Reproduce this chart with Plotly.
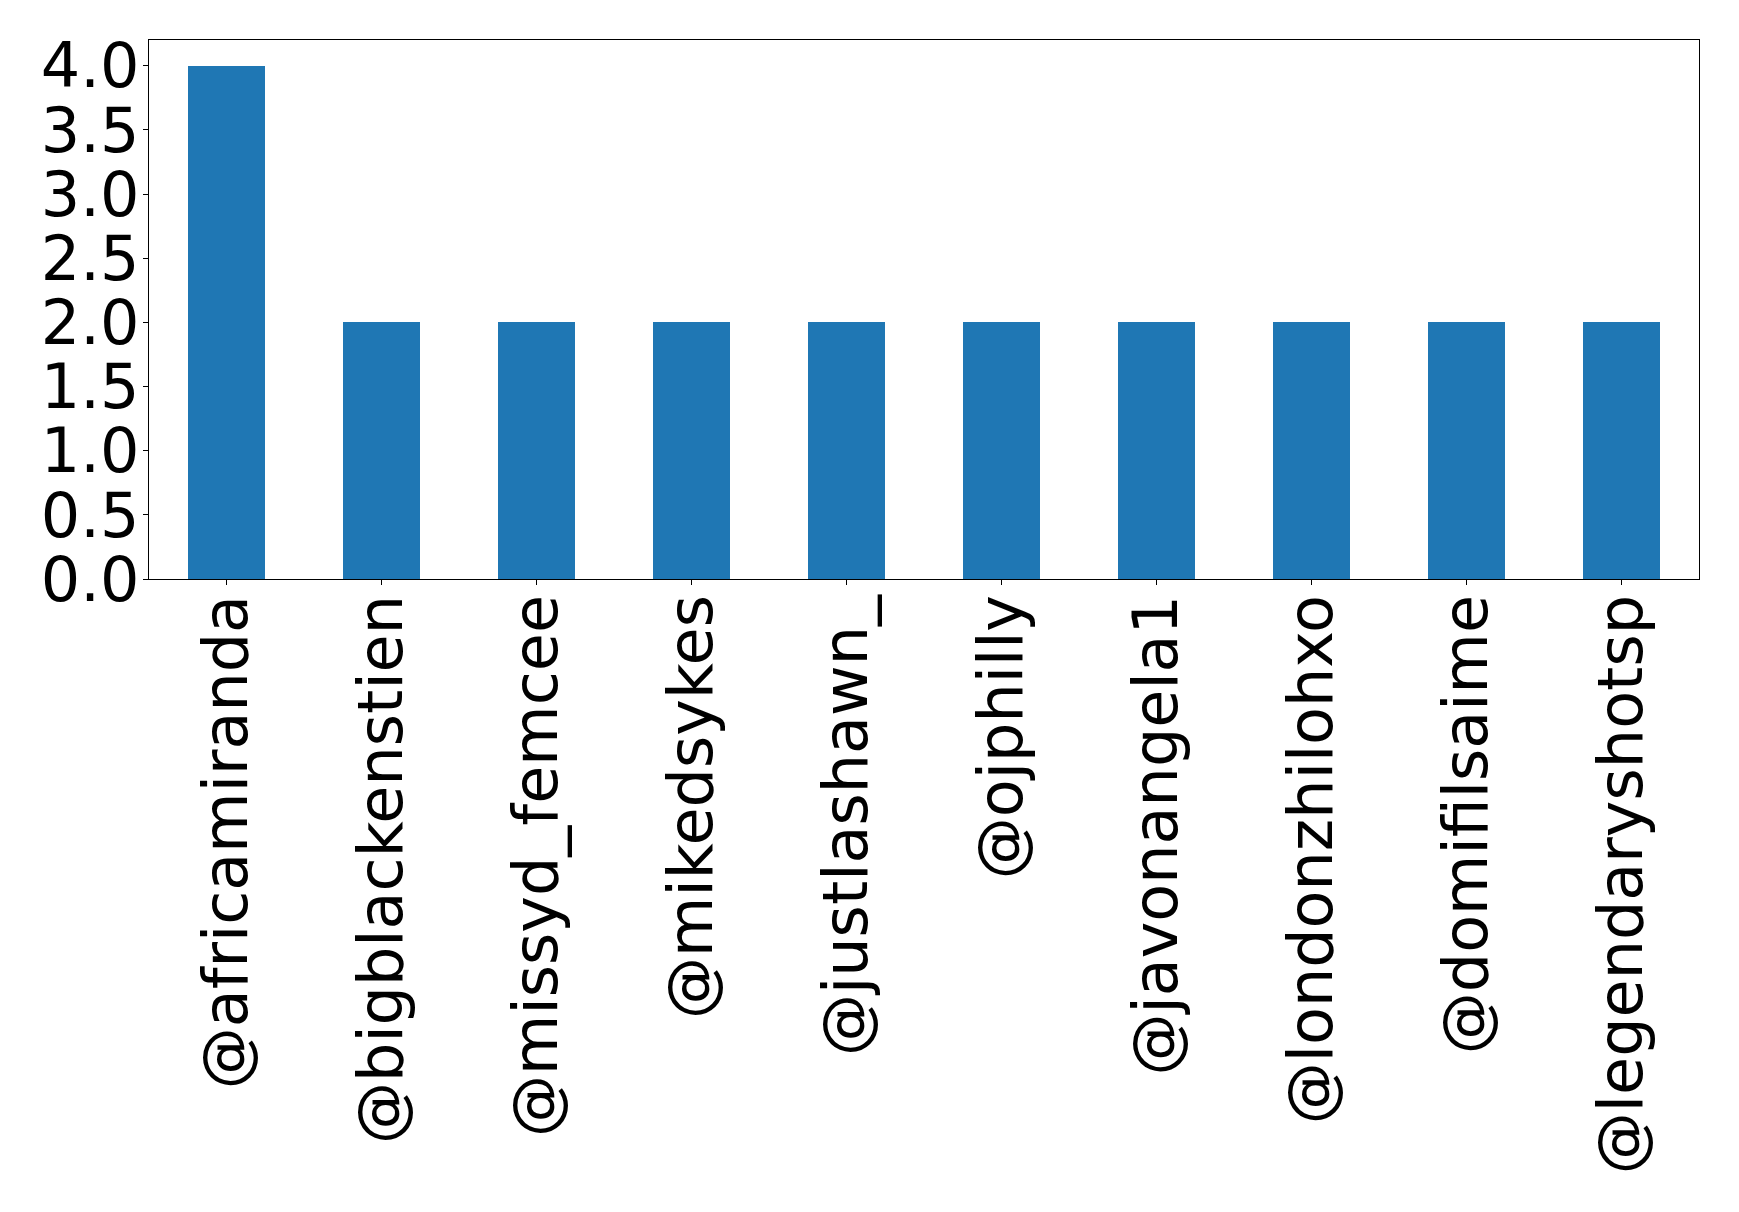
import plotly.graph_objects as go

users = ["@africamiranda", "@bigblackenstien", "@missyd_femcee", "@mikedsykes",
         "@justlashawn_", "@ojphilly", "@javonangela1", "@londonzhilohxo",
         "@domifilsaime", "@legendaryshotsp"]
counts = [4, 2, 2, 2, 2, 2, 2, 2, 2, 2]
y_ticks = [0.0, 0.5, 1.0, 1.5, 2.0, 2.5, 3.0, 3.5, 4.0]

fig = go.Figure(go.Bar(x=users, y=counts, marker_color="#1f77b4", width=0.5,
                       marker_line_width=0))

font = dict(family="DejaVu Sans", size=62, color="black")
fig.update_layout(
    width=1731, height=1204,
    margin=dict(l=141, r=40, t=32, b=633, autoexpand=False),
    paper_bgcolor="white", plot_bgcolor="white",
    showlegend=False,
    bargap=0,
)
fig.update_xaxes(range=[-0.5, 9.5], tickangle=-90, tickfont=font,
                 showline=True, linecolor="black", linewidth=1.3, mirror=True,
                 ticks="outside", ticklen=5, tickcolor="black", showgrid=False,
                 ticklabelstandoff=-15, automargin=False)
fig.update_yaxes(range=[0, 4.2], tickvals=y_ticks,
                 ticktext=[f"{v:.1f}" for v in y_ticks], tickfont=font,
                 showline=True, linecolor="black", linewidth=1.3, mirror=True,
                 ticks="outside", ticklen=5, tickcolor="black", showgrid=False,
                 zeroline=False, automargin=False, ticklabelstandoff=-9)
fig.write_html("out.html")
